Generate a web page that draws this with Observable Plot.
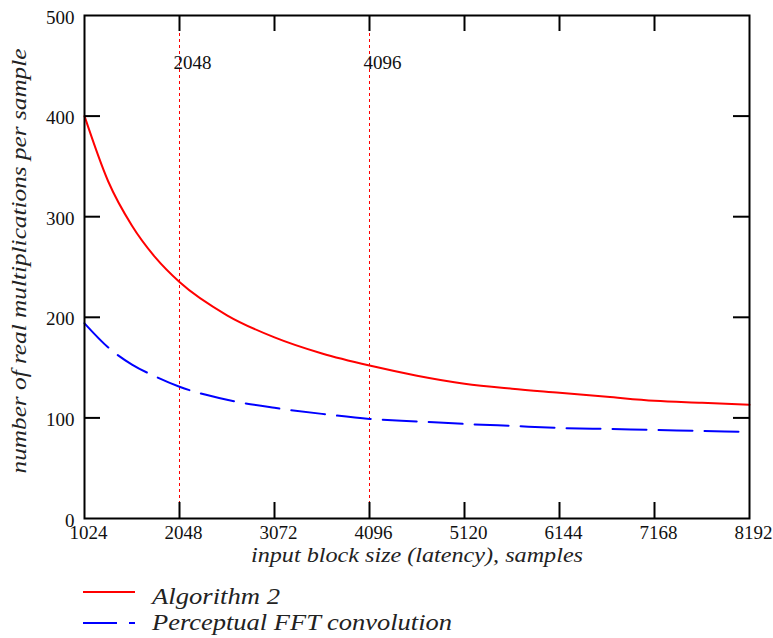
<!DOCTYPE html>
<html>
<head>
<meta charset="utf-8">
<script src="https://cdn.jsdelivr.net/npm/d3@7"></script>
<script src="https://cdn.jsdelivr.net/npm/@observablehq/plot@0.6"></script>
<style>
  html, body { margin: 0; padding: 0; background: #fff; }
  #wrap { position: relative; width: 773px; height: 638px; overflow: hidden; }
  #legend { position: absolute; left: 0; top: 578px; }
</style>
</head>
<body>
<div id="wrap">
  <div id="chart"></div>
  <svg id="legend" width="773" height="60">
    <line x1="83" x2="135" y1="14" y2="14" stroke="#ff0000" stroke-width="2"></line>
    <text x="152" y="26" fill="#222" font-family="Liberation Serif" font-style="italic" font-size="24" textLength="128" lengthAdjust="spacingAndGlyphs">Algorithm 2</text>
    <line x1="83" x2="135" y1="45" y2="45" stroke="#0000ff" stroke-width="2" stroke-dasharray="34,12"></line>
    <text x="152" y="52" fill="#222" font-family="Liberation Serif" font-style="italic" font-size="24" textLength="300" lengthAdjust="spacingAndGlyphs">Perceptual FFT convolution</text>
  </svg>
</div>
<script>
// Data
const blockSize = [1024, 1280, 1536, 1792, 2048, 2560, 3072, 3584, 4096, 4608, 5120, 5632, 6144, 6656, 7168, 7680, 8192];
const algorithm2 = [400, 335, 291, 259, 235, 202, 180, 164, 152, 142, 134, 129, 125, 121, 117, 115, 113];
const perceptualFFT = [194, 170, 153, 141, 131, 118, 110, 104, 99, 96.5, 94, 92, 90, 89, 88, 87, 86];
const xTicks = [1024, 2048, 3072, 4096, 5120, 6144, 7168, 8192];
const yTicks = [0, 100, 200, 300, 400, 500];
const markers = [2048, 4096];
const xLabel = "input block size (latency), samples";
const yLabel = "number of real multiplications per sample";

const redData = blockSize.map((n, i) => ({n, v: algorithm2[i]}));
const blueData = blockSize.map((n, i) => ({n, v: perceptualFFT[i]}));

const FONT = "Liberation Serif";

const chart = Plot.plot({
  width: 773,
  height: 578,
  marginLeft: 84,
  marginRight: 24,
  marginTop: 15,
  marginBottom: 60,
  x: {domain: [1024, 8192], axis: null},
  y: {domain: [0, 500], axis: null},
  style: {fontFamily: FONT, fontSize: "19px", background: "#fff", color: "#111"},
  marks: [
    Plot.ruleX(markers, {x: d => d, stroke: "#ff0000", strokeWidth: 1, strokeDasharray: "3,3"}),
    Plot.line(redData, {x: "n", y: "v", stroke: "#ff0000", strokeWidth: 2, curve: "monotone-x"}),
    Plot.line(blueData, {x: "n", y: "v", stroke: "#0000ff", strokeWidth: 2, strokeDasharray: "34,12", curve: "monotone-x"}),
    Plot.frame({stroke: "#000", strokeWidth: 2}),
    Plot.tickX(xTicks.slice(1, -1), {x: d => d, insetTop: 487, stroke: "#000", strokeWidth: 2}),
    Plot.tickX(xTicks.slice(1, -1), {x: d => d, insetBottom: 487, stroke: "#000", strokeWidth: 2}),
    Plot.tickY(yTicks.slice(1, -1), {y: d => d, insetRight: 649, stroke: "#000", strokeWidth: 2}),
    Plot.tickY(yTicks.slice(1, -1), {y: d => d, insetLeft: 649, stroke: "#000", strokeWidth: 2}),
    Plot.text(xTicks, {x: d => d, text: d => String(d), frameAnchor: "bottom", dy: 20, dx: 4, fill: "#111", fontFamily: FONT, fontSize: 19}),
    Plot.text(yTicks, {y: d => d, text: d => String(d), frameAnchor: "left", dx: -10, dy: 2, textAnchor: "end", fill: "#111", fontFamily: FONT, fontSize: 19}),
    Plot.text(markers, {x: d => d, text: d => String(d), frameAnchor: "top", dy: 40, dx: -6, textAnchor: "start", fill: "#111", fontFamily: FONT, fontSize: 19}),
    Plot.text([xLabel], {text: d => d, frameAnchor: "bottom", dy: 43, textAnchor: "middle", fontStyle: "italic", fontSize: 20, fontFamily: FONT, fill: "#222"}),
    Plot.text([yLabel], {text: d => d, frameAnchor: "left", dx: -65, dy: -6, rotate: -90, textAnchor: "middle", fontStyle: "italic", fontSize: 20, fontFamily: FONT, fill: "#222"})
  ]
});
// Stretch the axis titles horizontally, as in the reference picture
d3.select(chart).selectAll("text").each(function() {
  const t = this.textContent;
  if (t === xLabel) d3.select(this).attr("textLength", 332).attr("lengthAdjust", "spacingAndGlyphs");
  if (t === yLabel) d3.select(this).attr("textLength", 425).attr("lengthAdjust", "spacingAndGlyphs");
});
document.getElementById("chart").appendChild(chart);
</script>
</body>
</html>
